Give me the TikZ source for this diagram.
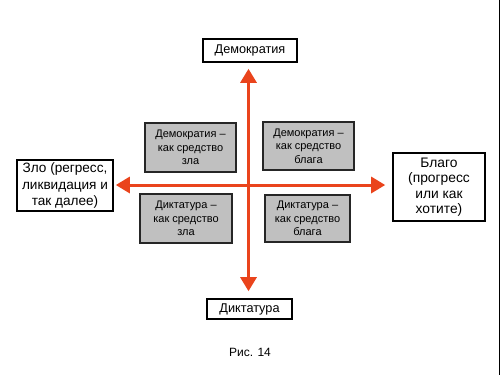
\documentclass[tikz,border=0pt]{standalone}
\usepackage{fontspec}
\setmainfont{Liberation Sans}
\usetikzlibrary{arrows.meta}
\definecolor{arrred}{RGB}{234,68,28}
\definecolor{boxgray}{RGB}{192,192,192}
\begin{document}
\begin{tikzpicture}[x=1pt,y=-1pt,
  outerbox/.style={draw=black,line width=1.6pt,fill=white,inner sep=0pt,align=center,font=\fontsize{12.7}{15}\selectfont},
  innerbox/.style={draw=black!85,line width=2pt,fill=boxgray,inner sep=0pt,align=center,font=\fontsize{11}{13.5}\selectfont},
  axis/.style={draw=arrred,line width=3pt,{Triangle[length=14pt,width=16pt]}-{Triangle[length=14pt,width=16pt]}}]
\useasboundingbox[fill=white] (0,0) rectangle (500,375);
\draw[line width=1pt] (499,0) -- (499,375);
% outer boxes
\node[outerbox,minimum width=94,minimum height=23] (dem) at (250,50.5) {Демократия};
\node[outerbox,minimum width=85,minimum height=20] (dikt) at (249.5,309) {Диктатура};
\node[outerbox,minimum width=96,minimum height=51,font=\fontsize{13.6}{16.5}\selectfont] (zlo) at (65,185.5) {Зло (регресс,\\ликвидация и\\так далее)};
\node[outerbox,minimum width=92,minimum height=68,font=\fontsize{13.8}{15.5}\selectfont] (blago) at (439,187) {Благо\\(прогресс\\или как\\хотите)};
% inner boxes
\node[innerbox,minimum width=91,minimum height=49] (tl) at (190.5,147.5) {Демократия –\\как средство\\зла};
\node[innerbox,minimum width=91,minimum height=48] (tr) at (308.5,146) {Демократия –\\как средство\\блага};
\node[innerbox,minimum width=92,minimum height=49] (bl) at (186,218.5) {Диктатура –\\как средство\\зла};
\node[innerbox,minimum width=85,minimum height=47] (br) at (307.5,218.5) {Диктатура –\\как средство\\блага};
% axes
\coordinate (ctr) at (248.5,185);
\draw[axis,shorten <=6pt,shorten >=7pt] (dem.south -| ctr) -- (dikt.north -| ctr);
\draw[axis,shorten <=2pt,shorten >=7pt] (zlo.east |- ctr) -- (blago.west |- ctr);
% caption
\node[font=\fontsize{12}{14}\selectfont] (cap) at (250,352) {Рис. 14};
\end{tikzpicture}
\end{document}
